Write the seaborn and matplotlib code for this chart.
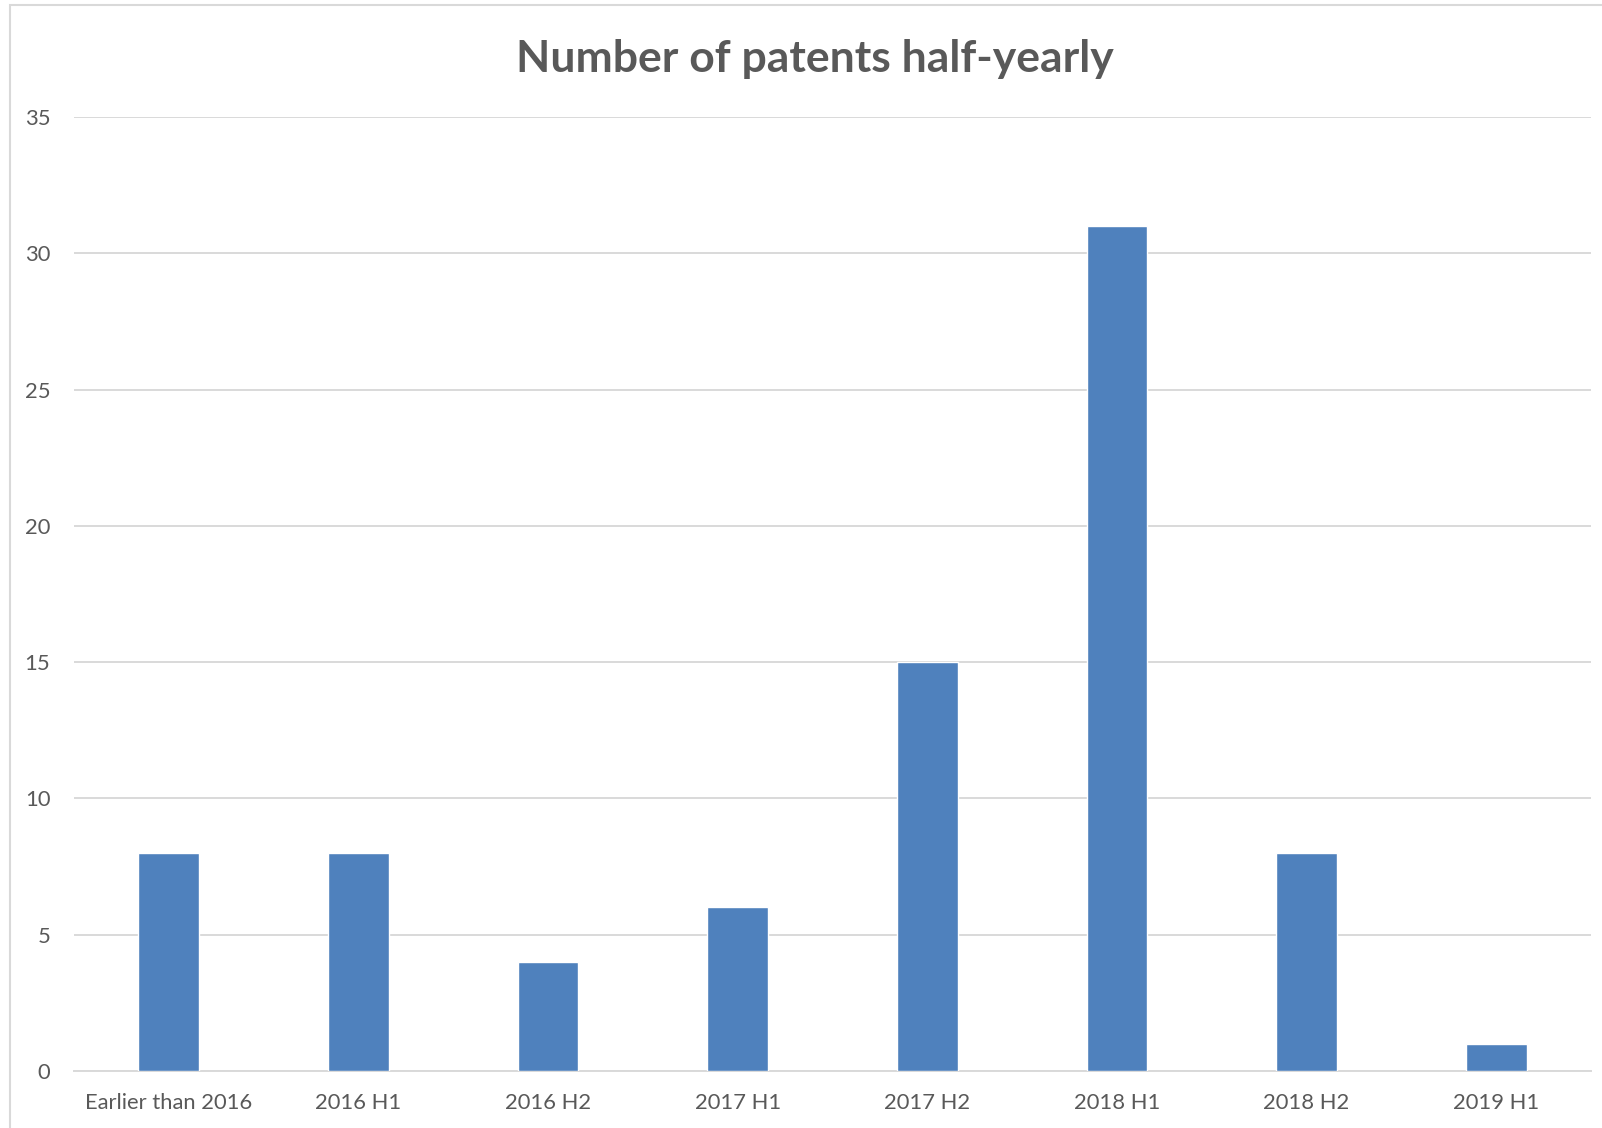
import matplotlib
matplotlib.use("Agg")
import matplotlib.pyplot as plt
import matplotlib.patches as mpatches
import seaborn as sns
import pandas as pd

categories = ["Earlier than 2016", "2016 H1", "2016 H2", "2017 H1",
              "2017 H2", "2018 H1", "2018 H2", "2019 H1"]
patents = [8, 8, 4, 6, 15, 31, 8, 1]
yticks = [0, 5, 10, 15, 20, 25, 30, 35]
title = "Number of patents half-yearly"

sns.set_theme(style="white")
plt.rcParams['font.family'] = ['Lato', 'DejaVu Sans']

df = pd.DataFrame({"period": categories, "count": patents})

fig = plt.figure(figsize=(16.02, 11.28), dpi=100)
ax = fig.add_axes([74/1602, 1 - 1071/1128, (1591-74)/1602, (1071-117)/1128])

sns.barplot(data=df, x="period", y="count", color="#4F81BD", saturation=1,
            width=0.32, ax=ax, zorder=3)

ax.set_xlim(-0.5, len(categories) - 0.5)
ax.set_ylim(0, 35)
ax.set_yticks(yticks)
ax.set_yticklabels([str(t) for t in yticks])
ax.set_xlabel("")
ax.set_ylabel("")
ax.grid(axis="y", color="#D9D9D9", linewidth=1.4, zorder=0)
ax.set_axisbelow(True)
for s in ["top", "right", "left"]:
    ax.spines[s].set_visible(False)
ax.spines["bottom"].set_color("#D9D9D9")
ax.spines["bottom"].set_linewidth(1.4)
ax.tick_params(axis="both", length=0, colors="#595959", labelsize=15.8)
ax.tick_params(axis="y", pad=17)
ax.tick_params(axis="x", pad=16)

fig.text(815/1602, 1 - 59/1128, title, ha="center", va="center",
         fontsize=32, fontweight="bold", color="#595959")

border = mpatches.Rectangle((10/1602, -0.1), 1.2, 1 - 5/1128 + 0.1,
                            transform=fig.transFigure, fill=False,
                            edgecolor="#D9D9D9", linewidth=1.5)
fig.patches.append(border)

fig.savefig("out.png", dpi=100, facecolor="white")
